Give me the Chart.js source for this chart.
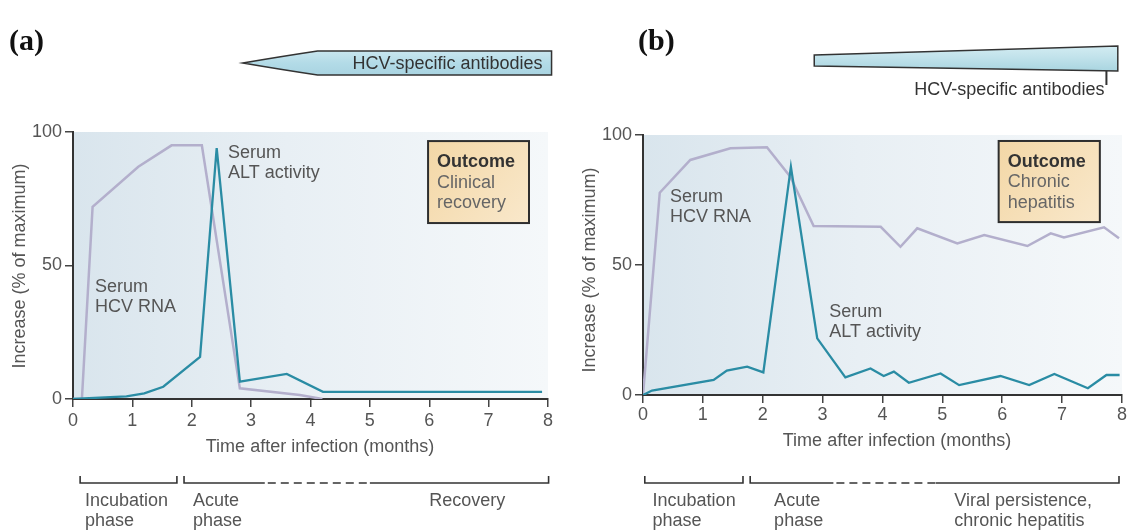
<!DOCTYPE html>
<html>
<head>
<meta charset="utf-8">
<title>Course of HCV infection</title>
<script src="https://cdn.jsdelivr.net/npm/chart.js@4/dist/chart.umd.min.js"></script>
<style>
  html, body { margin: 0; padding: 0; background: #fff; width: 1128px; height: 530px; overflow: hidden; }
  .panel { position: absolute; top: 0; width: 564px; height: 530px; }
  #pa { left: 0; }
  #pb { left: 564px; }
  canvas { display: block; }
</style>
</head>
<body>
<div class="panel" id="pa"><canvas id="chartA" width="564" height="530"></canvas></div>
<div class="panel" id="pb"><canvas id="chartB" width="564" height="530"></canvas></div>
<script>
const FONT = "'Liberation Sans', Arial, Helvetica, sans-serif";

// Shared axis ticks
const monthTicks = [0, 1, 2, 3, 4, 5, 6, 7, 8];
const percentTicks = [0, 50, 100];

// (a) Acute infection followed by clinical recovery
const rnaMonthsA = [0, 0.15, 0.33, 1.1, 1.66, 2.17, 2.81, 3.82, 4.2];
const rnaA       = [0, 0, 72, 87, 95, 95, 4, 1.5, 0];
const altMonthsA = [0, 0.9, 1.2, 1.52, 2.14, 2.42, 2.81, 3.6, 4.21, 7.9];
const altA       = [0, 1, 2.1, 4.6, 15.8, 94, 6.5, 9.4, 2.7, 2.7];

// (b) Infection that persists as chronic hepatitis
const rnaMonthsB = [0, 0.28, 0.79, 1.46, 2.07, 2.46, 2.85, 3.97, 4.3, 4.58, 5.25, 5.7, 6.42, 6.81, 7.03, 7.7, 7.95];
const rnaB       = [0, 77.8, 90.4, 94.9, 95.3, 84, 65, 64.7, 57, 64.1, 58.3, 61.5, 57.3, 62.2, 60.6, 64.5, 60.3];
const altMonthsB = [0, 0.15, 1.18, 1.4, 1.74, 2.01, 2.47, 2.91, 3.38, 3.8, 4.02, 4.19, 4.44, 4.97, 5.28, 5.97, 6.45, 6.87, 7.43, 7.74, 7.96];
const altB       = [0, 1.7, 5.8, 9.4, 10.9, 8.7, 87.8, 21.8, 6.8, 10.2, 7.3, 9, 4.7, 8.3, 3.8, 7.3, 3.8, 8.1, 2.6, 7.7, 7.7];

const pts = (xs, ys) => xs.map((x, i) => ({ x: x, y: ys[i] }));

// Annotation layout for each panel (month / percent values go through the scales)
const panelDecor = {
  chartA: {
    letter: '(a)', letterX: 9,
    xTitleX: 320, xTitleY: 447, yTitleX: 20, yTitleY: 266,
    curveLabels: [
      { m: 2.61, v: 92.2, lines: ['Serum', 'ALT activity'] },
      { m: 0.37, v: 42, lines: ['Serum', 'HCV RNA'] }
    ],
    outcome: { m1: 5.98, m2: 7.68, v1: 96.6, v2: 65.9, lines: ['Outcome', 'Clinical', 'recovery'] },
    antibody: { kind: 'arrow', tip: 2.86, shoulder: 4.12, end: 8.06, top: 51, bottom: 75 },
    brackets: [
      { s: 0.12, e: 1.75 },
      { s: 1.87, e: 8.01, d0: 3.23, d1: 5.0 }
    ],
    phases: [
      { m: 0.2, lines: ['Incubation', 'phase'] },
      { m: 2.02, lines: ['Acute', 'phase'] },
      { m: 6.0, lines: ['Recovery'] }
    ]
  },
  chartB: {
    letter: '(b)', letterX: 74,
    xTitleX: 333, xTitleY: 441, yTitleX: 26, yTitleY: 270,
    curveLabels: [
      { m: 0.45, v: 76.2, lines: ['Serum', 'HCV RNA'] },
      { m: 3.11, v: 32, lines: ['Serum', 'ALT activity'] }
    ],
    outcome: { m1: 5.94, m2: 7.63, v1: 97.7, v2: 66.5, lines: ['Outcome', 'Chronic', 'hepatitis'] },
    antibody: { kind: 'wedge', start: 2.86, end: 7.93, lTop: 55, lBottom: 66, rTop: 46, rBottom: 71, mark: 7.74, markTo: 85, textY: 90 },
    brackets: [
      { s: 0.03, e: 1.67 },
      { s: 1.79, e: 7.95, d0: 3.18, d1: 4.89 }
    ],
    phases: [
      { m: 0.16, lines: ['Incubation', 'phase'] },
      { m: 2.19, lines: ['Acute', 'phase'] },
      { m: 5.2, lines: ['Viral persistence,', 'chronic hepatitis'] }
    ]
  }
};

const decor = {
  id: 'decor',
  beforeDraw(chart) {
    const { ctx, chartArea: a } = chart;
    const g = ctx.createLinearGradient(a.left, 0, a.right, 0);
    g.addColorStop(0, '#d9e5ed');
    g.addColorStop(0.45, '#e8eff4');
    g.addColorStop(1, '#f5f8fa');
    ctx.save();
    ctx.fillStyle = g;
    ctx.fillRect(a.left, a.top, a.right - a.left, a.bottom - a.top);
    ctx.restore();
  },
  afterDraw(chart) {
    const c = panelDecor[chart.canvas.id];
    const { ctx, scales: { x, y } } = chart;
    const px = m => x.getPixelForValue(m);
    const py = v => y.getPixelForValue(v);
    const LINE = 20.5;
    ctx.save();

    // Panel letter
    ctx.font = "bold 30px 'Liberation Serif', 'Times New Roman', serif";
    ctx.fillStyle = '#111';
    ctx.textAlign = 'left';
    ctx.textBaseline = 'middle';
    ctx.fillText(c.letter, c.letterX, 42);

    // Axis titles
    ctx.font = '18px ' + FONT;
    ctx.fillStyle = '#555';
    ctx.textAlign = 'center';
    ctx.fillText('Time after infection (months)', c.xTitleX, c.xTitleY);
    ctx.save();
    ctx.translate(c.yTitleX, c.yTitleY);
    ctx.rotate(-Math.PI / 2);
    ctx.fillText('Increase (% of maximum)', 0, 0);
    ctx.restore();

    // Curve labels
    ctx.textAlign = 'left';
    ctx.fillStyle = '#555';
    c.curveLabels.forEach(l => {
      l.lines.forEach((t, i) => ctx.fillText(t, px(l.m), py(l.v) + i * LINE));
    });

    // Outcome box
    const o = c.outcome;
    const bx1 = px(o.m1), bx2 = px(o.m2), by1 = py(o.v1), by2 = py(o.v2);
    const og = ctx.createLinearGradient(bx1, by1, bx2, by2);
    og.addColorStop(0, '#f3d7a6');
    og.addColorStop(1, '#f9e8cb');
    ctx.fillStyle = og;
    ctx.fillRect(bx1, by1, bx2 - bx1, by2 - by1);
    ctx.strokeStyle = '#2e2e2e';
    ctx.lineWidth = 2;
    ctx.strokeRect(bx1, by1, bx2 - bx1, by2 - by1);
    o.lines.forEach((t, i) => {
      ctx.font = (i === 0 ? 'bold ' : '') + '18px ' + FONT;
      ctx.fillStyle = i === 0 ? '#333' : '#666';
      ctx.fillText(t, bx1 + 9, by1 + 21 + i * LINE);
    });

    // Antibody response bar
    const ab = c.antibody;
    ctx.font = '18px ' + FONT;
    ctx.lineWidth = 1.5;
    ctx.strokeStyle = '#333';
    if (ab.kind === 'arrow') {
      const xt = px(ab.tip), xs = px(ab.shoulder), xe = px(ab.end);
      const mid = (ab.top + ab.bottom) / 2;
      const ag = ctx.createLinearGradient(0, ab.top, 0, ab.bottom);
      ag.addColorStop(0, '#c9e6ef');
      ag.addColorStop(0.5, '#b3dbe7');
      ag.addColorStop(1, '#a9d4e1');
      ctx.beginPath();
      ctx.moveTo(xt, mid);
      ctx.quadraticCurveTo(xt + (xs - xt) * 0.55, ab.top + 5, xs, ab.top);
      ctx.lineTo(xe, ab.top);
      ctx.lineTo(xe, ab.bottom);
      ctx.lineTo(xs, ab.bottom);
      ctx.quadraticCurveTo(xt + (xs - xt) * 0.55, ab.bottom - 5, xt, mid);
      ctx.closePath();
      ctx.fillStyle = ag;
      ctx.fill();
      ctx.stroke();
      ctx.fillStyle = '#333';
      ctx.textAlign = 'right';
      ctx.fillText('HCV-specific antibodies', xe - 9, mid + 1);
    } else {
      const xl = px(ab.start), xr = px(ab.end);
      const wg = ctx.createLinearGradient(0, ab.rTop, 0, ab.rBottom);
      wg.addColorStop(0, '#d3ecf2');
      wg.addColorStop(0.5, '#bfe1ea');
      wg.addColorStop(1, '#a9d5e0');
      ctx.beginPath();
      ctx.moveTo(xl, ab.lTop);
      ctx.lineTo(xr, ab.rTop);
      ctx.lineTo(xr, ab.rBottom);
      ctx.lineTo(xl, ab.lBottom);
      ctx.closePath();
      ctx.fillStyle = wg;
      ctx.fill();
      ctx.stroke();
      const xm = px(ab.mark);
      ctx.lineWidth = 2;
      ctx.beginPath();
      ctx.moveTo(xm, ab.rBottom);
      ctx.lineTo(xm, ab.markTo);
      ctx.stroke();
      ctx.fillStyle = '#333';
      ctx.textAlign = 'right';
      ctx.fillText('HCV-specific antibodies', xm - 2, ab.textY);
    }

    // Phase brackets beneath the time axis
    const BY = 483, BT = 476;
    ctx.strokeStyle = '#333';
    ctx.lineWidth = 1.6;
    c.brackets.forEach(b => {
      const s = px(b.s), e = px(b.e);
      ctx.setLineDash([]);
      ctx.beginPath();
      ctx.moveTo(s, BT); ctx.lineTo(s, BY);
      if (b.d0 !== undefined) {
        ctx.lineTo(px(b.d0), BY);
        ctx.moveTo(px(b.d1), BY);
      }
      ctx.lineTo(e, BY); ctx.lineTo(e, BT);
      ctx.stroke();
      if (b.d0 !== undefined) {
        ctx.setLineDash([8, 5]);
        ctx.beginPath();
        ctx.moveTo(px(b.d0) + 3, BY);
        ctx.lineTo(px(b.d1), BY);
        ctx.stroke();
        ctx.setLineDash([]);
      }
    });
    ctx.font = '18px ' + FONT;
    ctx.fillStyle = '#555';
    ctx.textAlign = 'left';
    c.phases.forEach(p => {
      p.lines.forEach((t, i) => ctx.fillText(t, px(p.m), 501 + i * LINE));
    });

    ctx.restore();
  }
};

function axisCommon(ticksArr, fit, tickPad) {
  return {
    type: 'linear',
    afterBuildTicks(s) { s.ticks = ticksArr.map(v => ({ value: v })); },
    afterFit: fit,
    grid: { drawOnChartArea: false, drawTicks: true, tickLength: 8, color: '#444', lineWidth: 1.5 },
    border: { display: true, color: '#333', width: 2 },
    ticks: { color: '#555', font: { family: FONT, size: 18 }, padding: tickPad, maxRotation: 0, autoSkip: false }
  };
}

function makeChart(id, rnaPts, altPts, pad, xTickPad) {
  const xs = axisCommon(monthTicks, s => { s.height = 40; }, xTickPad);
  xs.min = 0; xs.max = 8;
  const ys = axisCommon(percentTicks, s => { s.width = 60; }, 3);
  ys.min = 0; ys.max = 100;
  return new Chart(document.getElementById(id), {
    type: 'line',
    data: {
      datasets: [
        { label: 'Serum ALT activity', data: altPts, borderColor: '#2a8ca4', borderWidth: 2.3,
          pointRadius: 0, tension: 0, fill: false },
        { label: 'Serum HCV RNA', data: rnaPts, borderColor: '#b3afcc', borderWidth: 2.5,
          pointRadius: 0, tension: 0, fill: false }
      ]
    },
    options: {
      responsive: false,
      animation: false,
      devicePixelRatio: 1,
      events: [],
      layout: { padding: pad },
      plugins: { legend: { display: false }, tooltip: { enabled: false } },
      scales: { x: xs, y: ys }
    },
    plugins: [decor]
  });
}

makeChart('chartA', pts(rnaMonthsA, rnaA), pts(altMonthsA, altA),
  { left: 13, right: 16, top: 132, bottom: 91 }, 3);
makeChart('chartB', pts(rnaMonthsB, rnaB), pts(altMonthsB, altB),
  { left: 19, right: 6, top: 135, bottom: 95 }, 1);
</script>
</body>
</html>
